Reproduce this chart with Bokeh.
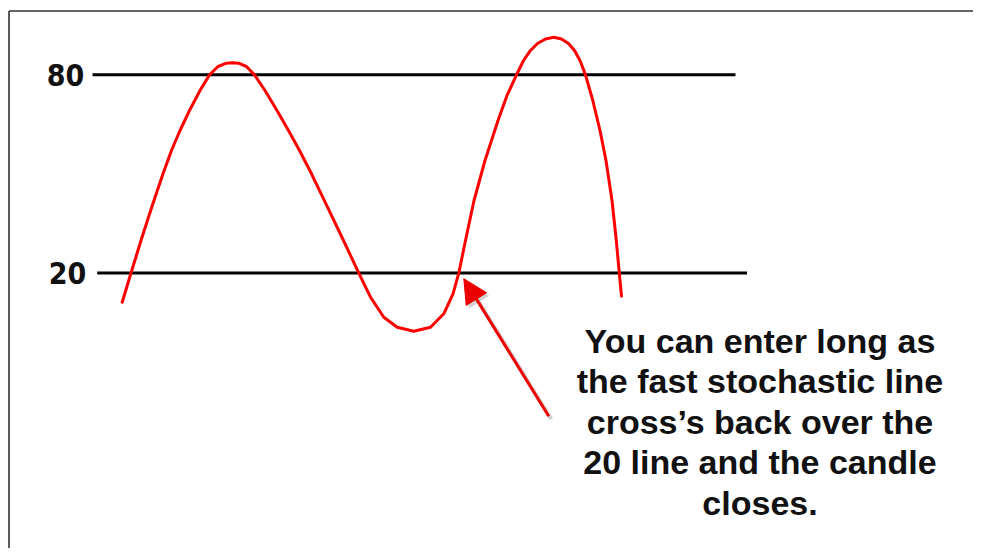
from bokeh.plotting import figure
from bokeh.models import Range1d, Arrow, NormalHead
from bokeh.core.properties import value
from bokeh.embed import file_html
from bokeh.resources import INLINE

# ---- data ----
stoch_x = [12.17, 13.05, 14.05, 15.12, 16.25, 17.1, 17.95, 18.9, 19.95, 20.9, 21.75, 22.6, 23.2,
           23.8, 24.6, 25.4, 26.45, 27.65, 28.8, 29.9, 31.1, 32.7, 34.3, 35.83, 37.0, 38.33,
           39.67, 41.33, 43.0, 44.33, 45.25, 45.83, 46.5, 47.35, 48.45, 49.75, 50.65, 51.6,
           52.3, 53.0, 53.7, 54.5, 55.33, 56.1, 56.8, 57.4, 57.95, 58.5, 59.23, 59.95, 60.55,
           61.15, 61.58, 61.88, 62.1]
stoch_y = [11.17, 20.0, 29.85, 39.93, 50.05, 57.10, 63.15, 69.21, 75.26, 80.0, 82.53, 83.53, 83.68,
           83.53, 82.53, 80.0, 75.26, 69.21, 63.15, 57.10, 50.05, 39.93, 29.85, 20.0, 12.69, 6.63,
           3.60, 2.39, 3.60, 7.66, 13.71, 20.0, 29.85, 41.96, 54.07, 66.18, 73.75, 80.0,
           84.35, 87.38, 89.49, 90.86, 91.40, 90.86, 89.49, 87.38, 84.35, 80.0, 72.24, 63.15, 54.07,
           41.96, 29.85, 20.0, 12.99]
levels = [80, 20]
level_labels = ["80", "20"]
note_lines = ["You can enter long as",
              "the fast stochastic line",
              "cross\u2019s back over the",
              "20 line and the candle",
              "closes."]

# ---- layout constants ----
W, H = 973, 548
X0, X1 = 0.0, 97.3
Y0, Y1 = -63.39, 102.51
PXX = W / (X1 - X0)
PXY = H / (Y1 - Y0)

level_x0 = [9.2, 9.67]
level_x1 = [73.5, 74.65]
label_x = [6.5, 6.7]

p = figure(width=W, height=H, output_backend="svg", toolbar_location=None,
           x_range=Range1d(X0, X1), y_range=Range1d(Y0, Y1),
           x_axis_location=None, y_axis_location=None,
           min_border=0, min_border_left=0, min_border_right=0,
           min_border_top=0, min_border_bottom=0)
p.grid.visible = False
p.outline_line_color = None
p.background_fill_color = "white"
p.border_fill_color = "white"

# frame border (top and left only visible)
top_y = Y1 - 10.5 / PXY
left_x = X0 + 8.5 / PXX
p.line([left_x, X1], [top_y, top_y], line_color="#333333", line_width=1.6)
p.line([left_x, left_x], [Y0, top_y], line_color="#333333", line_width=1.6)

# level lines
p.segment(x0=level_x0, y0=levels, x1=level_x1, y1=levels, line_color="black", line_width=3)
p.text(x=label_x, y=levels, text=level_labels,
       text_font=value("'DejaVu Sans Condensed', 'DejaVu Sans', sans-serif"),
       text_font_style="bold", text_font_size="30px", text_align="center",
       text_baseline="middle", text_color="#111111")

# stochastic line
p.line(stoch_x, stoch_y, line_color="#ff0000", line_width=3, line_join="round", line_cap="round")

# arrow (with soft shadow)
tail = (54.83, -23.34)
tip = (46.33, 18.3)
dx, dy = 2.5 / PXX, -3.0 / PXY
p.add_layout(Arrow(x_start=tail[0] + dx, y_start=tail[1] + dy, x_end=tip[0] + dx, y_end=tip[1] + dy,
                   line_color="#999999", line_alpha=0.45, line_width=4,
                   end=NormalHead(size=24, fill_color="#999999", fill_alpha=0.45, line_color=None)))
p.add_layout(Arrow(x_start=tail[0], y_start=tail[1], x_end=tip[0], y_end=tip[1],
                   line_color="#ee0000", line_width=3,
                   end=NormalHead(size=24, fill_color="#ee0000", line_color="#ee0000", line_width=1)))

# annotation text
text_x = 75.95
y_first = (338.6 - 340.0) / 3.303
step = 40.5 / PXY
p.text(x=[text_x] * len(note_lines), y=[y_first - i * step for i in range(len(note_lines))],
       text=note_lines, text_font=value("Liberation Sans"), text_font_style="bold",
       text_font_size="34px", text_align="center", text_baseline="alphabetic",
       text_color="#111111")

open("out.html", "w").write(file_html(p, INLINE))
